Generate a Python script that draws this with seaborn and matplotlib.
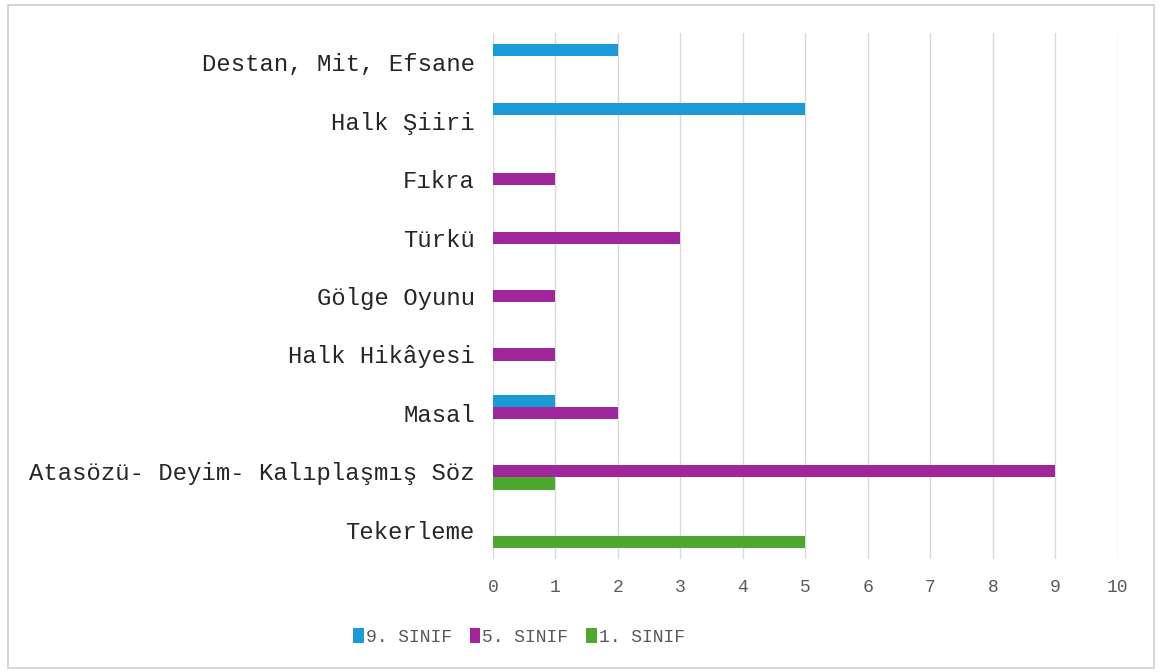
import matplotlib
matplotlib.use("Agg")
import matplotlib.pyplot as plt
from matplotlib.patches import Rectangle
import pandas as pd
import seaborn as sns

categories = [
    "Destan, Mit, Efsane",
    "Halk Şiiri",
    "Fıkra",
    "Türkü",
    "Gölge Oyunu",
    "Halk Hikâyesi",
    "Masal",
    "Atasözü- Deyim- Kalıplaşmış Söz",
    "Tekerleme",
]
series = ["9. SINIF", "5. SINIF", "1. SINIF"]
sinif_9 = [2, 5, 0, 0, 0, 0, 1, 0, 0]
sinif_5 = [0, 0, 1, 3, 1, 1, 2, 9, 0]
sinif_1 = [0, 0, 0, 0, 0, 0, 0, 1, 5]
x_ticks = list(range(0, 11))

COLORS = {"9. SINIF": "#1A9AD6", "5. SINIF": "#A0269C", "1. SINIF": "#4EA72E"}

df = pd.DataFrame({
    "kategori": categories * 3,
    "sinif": [s for s in series for _ in categories],
    "deger": sinif_9 + sinif_5 + sinif_1,
})

sns.set_theme(style="white")
plt.rcParams["font.family"] = ["Liberation Mono", "DejaVu Sans Mono"]

fig = plt.figure(figsize=(11.61, 6.72), dpi=100)
ax = fig.add_axes([0.4246, 0.168, 0.5383, 0.783])

sns.barplot(
    data=df, y="kategori", x="deger", hue="sinif",
    order=categories, hue_order=series, palette=COLORS,
    orient="h", width=0.62, saturation=1, linewidth=0, ax=ax, legend=True,
)

ax.set_xlim(0, 10)
ax.set_xticks(x_ticks)
ax.xaxis.grid(True, color="#D9D9D9", lw=1)
ax.set_axisbelow(True)
for s in ax.spines.values():
    s.set_visible(False)
ax.set_xlabel("")
ax.set_ylabel("")
ax.tick_params(axis="y", labelsize=17.2, colors="#262626", length=0, pad=13)
ax.tick_params(axis="x", labelsize=13, colors="#595959", length=0, pad=14)

handles, labels = ax.get_legend_handles_labels()
ax.get_legend().remove()
fig.legend(
    handles, labels, loc="center", bbox_to_anchor=(0.447, 0.052), ncol=3,
    frameon=False, handlelength=0.6, handleheight=0.9, handletextpad=0.1,
    columnspacing=1.0, prop={"size": 13},
    labelcolor="#595959",
)

# chart area border
fig.patches.append(Rectangle((8 / 1161, 4 / 672), 1146 / 1161, 663 / 672,
                             transform=fig.transFigure, fill=False,
                             edgecolor="#D0D0D0", lw=1.2))

fig.savefig("out.png", dpi=100)
